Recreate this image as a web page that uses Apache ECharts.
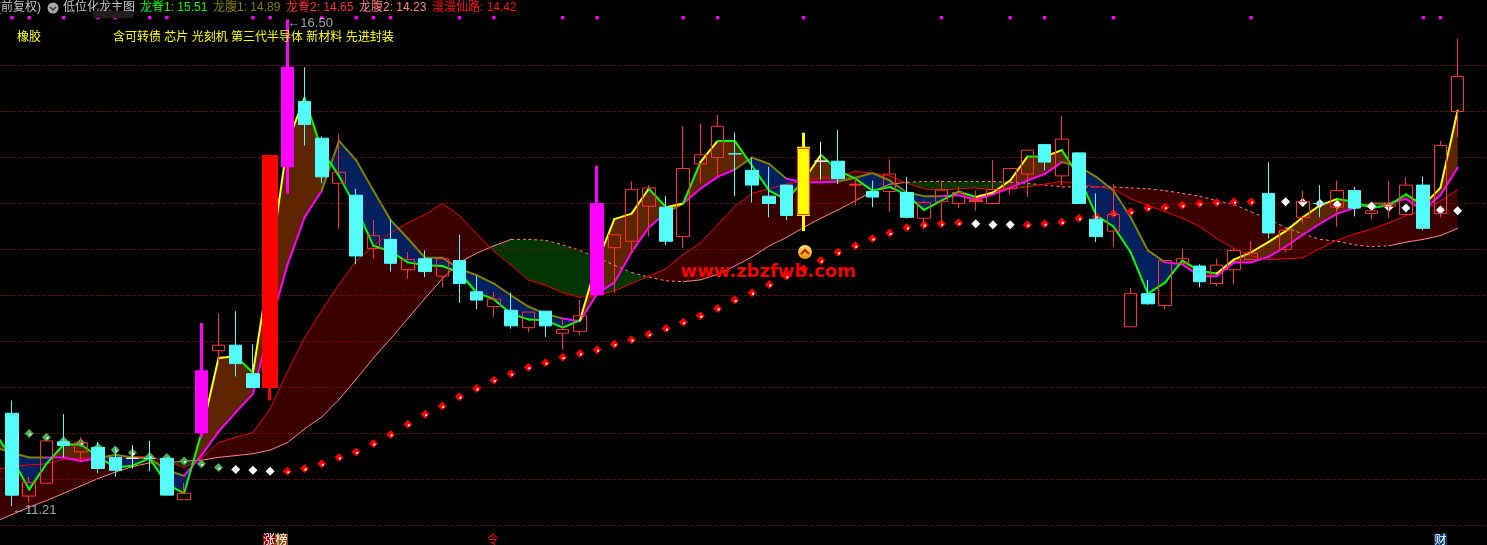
<!DOCTYPE html>
<html>
<head>
<meta charset="utf-8">
<style>html,body{margin:0;padding:0;background:#000;overflow:hidden}#c{width:1487px;height:545px}</style>
<script src="https://cdn.jsdelivr.net/npm/echarts@6/dist/echarts.min.js"></script>
</head>
<body>
<div id="c"></div>
<script>
// Candle kinds: c cyan down, r hollow red up, m magenta, R solid limit-up, y yellow, w white doji, f filled flat red
const candleKinds = "crrcrccwcc"+"rmrccRmccr"+"crcrcrccrc"+"rcrrmrrrcr"+"rrccccywcf"+"crcrrrfrrr"+"crccrrcrrc"+"rrrcrrcrcr"+"rrcrr";
const opens = [12.22,11.32,11.46,11.91,11.80,11.85,11.74,11.73,11.73,11.73,11.28,12.02,12.90,12.96,12.65,12.51,14.91,15.61,15.21,14.72,14.59,14.01,14.11,13.78,13.90,13.71,13.88,13.54,13.38,13.34,13.15,13.33,13.09,13.11,13.52,14.02,14.09,14.47,14.46,14.14,14.93,15.00,15.04,14.86,14.58,14.70,14.38,14.96,14.96,14.70,14.63,14.63,14.62,14.34,14.52,14.50,14.52,14.50,14.66,14.82,15.14,14.80,15.05,14.33,14.20,13.16,13.52,13.39,13.85,13.82,13.63,13.78,13.89,14.61,14.00,14.35,14.50,14.46,14.64,14.39,14.47,14.38,14.70,14.39,15.50];
const closes = [11.33,11.47,11.92,11.87,11.90,11.62,11.60,11.73,11.73,11.33,11.35,12.67,12.96,12.76,12.50,15.01,15.97,15.36,14.79,14.84,13.93,14.15,13.85,13.89,13.76,13.90,13.63,13.45,13.46,13.17,13.32,13.17,13.13,13.28,14.49,14.16,14.65,14.67,14.09,14.88,15.03,15.34,15.04,14.70,14.50,14.37,15.10,14.96,14.77,14.71,14.57,14.82,14.35,14.51,14.65,14.62,14.54,14.65,14.88,15.08,14.95,15.20,14.50,14.14,14.38,13.52,13.41,13.88,13.90,13.65,13.83,13.99,13.96,14.18,14.21,14.52,14.50,14.64,14.45,14.42,14.49,14.70,14.23,15.13,15.88];
const lows = [11.21,11.25,11.46,11.74,11.72,11.57,11.53,11.62,11.59,11.33,11.28,11.96,12.78,12.62,12.50,12.36,14.61,15.13,14.72,14.22,13.84,13.90,13.76,13.68,13.70,13.59,13.42,13.35,13.26,13.14,13.10,13.05,12.91,13.07,13.52,13.53,13.96,14.14,14.05,14.02,14.72,14.79,14.58,14.51,14.35,14.32,14.20,14.76,14.71,14.48,14.46,14.41,14.34,14.22,14.28,14.45,14.42,14.50,14.59,14.57,14.86,14.70,14.50,14.08,14.03,13.16,13.40,13.35,13.85,13.59,13.60,13.62,13.89,14.12,13.97,14.28,14.35,14.25,14.36,14.33,14.34,14.38,14.21,14.35,15.22];
const highs = [12.36,11.53,11.92,12.21,11.96,11.91,11.85,11.87,11.92,11.73,11.46,13.20,13.30,13.33,12.97,15.01,16.50,15.98,15.23,15.26,14.66,14.32,14.32,13.97,13.99,13.90,14.16,13.71,13.54,13.53,13.32,13.33,13.24,13.45,14.91,14.16,14.74,14.70,14.58,15.34,15.37,15.46,15.27,15.00,14.90,14.70,15.27,15.17,15.30,14.78,14.75,14.98,14.79,14.53,14.75,14.68,14.64,14.97,14.88,15.08,15.14,15.45,15.05,14.61,14.71,13.58,13.67,13.88,14.01,13.84,13.90,14.02,14.09,14.95,14.24,14.64,14.70,14.75,14.68,14.42,14.74,14.78,14.79,15.18,16.29];
// 龙脊1 / 龙腹1 / 龙脊2 / 龙腹2 — first value is the point just off the left edge, then one per candle
const ridge1 = [12.01,11.73,11.39,11.67,11.88,11.88,11.75,11.63,11.65,11.73,11.45,11.35,12.00,12.82,12.84,12.66,13.84,15.16,15.65,15.08,14.80,14.45,14.04,13.98,13.86,13.83,13.82,13.75,13.53,13.46,13.30,13.24,13.23,13.15,13.23,13.86,14.33,14.39,14.66,14.46,14.50,14.95,15.18,15.18,14.91,14.64,14.54,14.75,15.03,14.86,14.77,14.64,14.68,14.59,14.43,14.53,14.63,14.57,14.62,14.75,15.01,15.01,15.08,14.79,14.37,14.25,13.97,13.52,13.64,13.88,13.77,13.74,13.89,13.97,14.08,14.20,14.35,14.48,14.55,14.52,14.45,14.48,14.60,14.48,14.67,15.51];
const belly1 = [11.85,11.79,11.74,11.74,11.74,11.70,11.73,11.77,11.74,11.73,11.60,11.54,11.76,12.02,12.23,12.43,13.17,13.83,14.35,14.64,15.18,14.97,14.64,14.32,14.12,13.91,13.91,13.79,13.72,13.63,13.50,13.38,13.30,13.25,13.22,13.52,13.64,13.97,14.24,14.40,14.50,14.66,14.79,14.87,15.00,14.93,14.77,14.73,14.73,14.74,14.78,14.83,14.75,14.62,14.58,14.58,14.59,14.54,14.60,14.67,14.75,14.82,14.95,14.90,14.79,14.64,14.35,13.99,13.86,13.84,13.71,13.71,13.86,13.86,13.92,14.03,14.16,14.28,14.39,14.45,14.50,14.50,14.55,14.42,14.59,14.89];
const ridge2 = [11.61,11.64,11.66,11.67,11.72,11.73,11.74,11.74,11.75,11.75,11.70,11.63,11.73,11.90,11.96,12.01,12.27,12.67,13.04,13.34,13.62,13.88,14.04,14.18,14.29,14.38,14.50,14.37,14.17,13.98,13.83,13.67,13.61,13.53,13.48,13.50,13.55,13.63,13.71,13.79,13.95,14.07,14.27,14.47,14.61,14.66,14.71,14.75,14.78,14.79,14.85,14.83,14.80,14.72,14.66,14.64,14.66,14.67,14.65,14.66,14.68,14.71,14.74,14.71,14.68,14.66,14.55,14.48,14.41,14.34,14.25,14.12,14.01,13.93,13.89,13.90,13.91,14.01,14.10,14.17,14.22,14.29,14.37,14.42,14.53,14.65];
const belly2 = [11.04,11.12,11.20,11.27,11.35,11.43,11.51,11.58,11.64,11.68,11.68,11.70,11.71,11.74,11.76,11.78,11.82,11.90,12.05,12.18,12.37,12.59,12.82,13.03,13.25,13.47,13.68,13.86,13.96,14.04,14.11,14.11,14.10,14.05,13.99,13.91,13.83,13.75,13.70,13.66,13.65,13.67,13.73,13.82,13.92,14.04,14.13,14.24,14.34,14.43,14.53,14.63,14.71,14.73,14.74,14.74,14.74,14.74,14.74,14.73,14.72,14.70,14.68,14.68,14.68,14.68,14.67,14.66,14.64,14.61,14.58,14.53,14.49,14.41,14.33,14.24,14.17,14.11,14.09,14.05,14.03,14.04,14.08,14.11,14.15,14.23];
// 漫漫仙路 dots and their state: g green, w white, r red
const pathDots = [12.03,12.00,11.96,11.92,11.90,11.85,11.82,11.79,11.75,11.74,11.70,11.67,11.63,11.61,11.60,11.59,11.59,11.62,11.67,11.74,11.80,11.89,11.99,12.10,12.21,12.30,12.40,12.49,12.58,12.65,12.72,12.77,12.83,12.87,12.91,12.97,13.02,13.08,13.14,13.21,13.28,13.36,13.45,13.53,13.62,13.71,13.79,13.88,13.97,14.04,14.12,14.18,14.24,14.27,14.28,14.29,14.28,14.27,14.27,14.27,14.28,14.30,14.34,14.36,14.39,14.41,14.45,14.46,14.48,14.50,14.51,14.52,14.52,14.52,14.52,14.51,14.50,14.49,14.48,14.47,14.46,14.45,14.45,14.43,14.42];
const dotStates = "ggggggggggggg"+"www"+"r".repeat(40)+"www"+"r".repeat(14)+"w".repeat(12);
const signalCandles = [0,1,3,5,6,8,9,14,15,18,20,21,22,26,28,32,34,39,41,46,54,58,60,64,72,82,83];
const signalLevel = 16.52;
const gridLevels = [11,11.5,12,12.5,13,13.5,14,14.5,15,15.5,16];
const extremes = [[16,16.50,'←16.50'],[0,11.21,'←11.21']];
const headerLine = [
 ['(前复权)',-3,'#c4c4c4'],['低位化龙主图',63,'#c4c4c4'],['龙脊1: 15.51',140,'#00ff00'],['龙腹1: 14.89',213,'#808000'],
 ['龙脊2: 14.65',286,'#ff3030'],['龙腹2: 14.23',359,'#ff8080'],['漫漫仙路: 14.42',432,'#ff1010']];
const conceptLine = [['橡胶',17],['含可转债 芯片 光刻机 第三代半导体 新材料 先进封装',113]];

const SLOTS = 86, STEP = 17.21;
const categories = Array.from({length:SLOTS},(_,i)=>String(i));
const font = '"Liberation Sans","Noto Sans CJK SC",sans-serif';
const yBottom = 11-(545-525.5)/92, yTop = 11+525.5/92;

function candleStyle(k){
  const s = {
    c:{f:'#54fcfc',b:'#54fcfc'}, r:{f:'transparent',b:'#ff3232'}, m:{f:'#ff00ff',b:'#ff00ff',w:3},
    R:{f:'#ff0000',b:'#ff0000',w:3}, y:{f:'#ffff00',b:'#ffff00',w:3}, w:{f:'#ffffff',b:'#ffffff'}, f:{f:'#ff3232',b:'#ff3232'}
  }[k];
  return {color:s.f,color0:s.f,borderColor:s.b,borderColor0:s.b,borderColorDoji:s.b,borderWidth:s.w||1,opacity:1};
}
function candleData(test,map){
  return opens.map((o,i)=>{
    const k=candleKinds[i];
    if(!test(k)) return ['-','-','-','-'];
    return map?map(i,k):{value:[o,closes[i],lows[i],highs[i]],itemStyle:candleStyle(k)};
  });
}
// k = array position (0 is the off-edge point, k-1 is the candle slot)
function placer(api){
  const origin=api.coord([0,yBottom])[0], step=api.size([1,0])[0];
  return (k,v)=>[origin+(k-1)*step, api.coord([0,v])[1]];
}
function ribbon(P,Q,above,below,z){
  return {type:'custom',coordinateSystem:'cartesian2d',z,silent:true,clip:false,data:[[0,yBottom]],
    encode:{x:0,y:1},
    renderItem(params,api){
      const pt=placer(api), children=[];
      let up=[pt(0,P[0])], lo=[pt(0,Q[0])], sign=P[0]>=Q[0];
      const flush=(c)=>children.push({type:'polygon',shape:{points:up.concat(lo.slice().reverse())},style:{fill:c}});
      for(let j=1;j<P.length;j++){
        const d1=P[j-1]-Q[j-1], d2=P[j]-Q[j];
        if(d1*d2<0){
          const t=d1/(d1-d2), m=pt(j-1+t,P[j-1]+(P[j]-P[j-1])*t);
          up.push(m); flush(sign?above:below);
          up=[m]; lo=[m]; sign=d2>0;
        }
        up.push(pt(j,P[j])); lo.push(pt(j,Q[j]));
      }
      flush(sign?above:below);
      return {type:'group',children};
    }};
}
function segLine(V,styleOf,width,z){
  return {type:'custom',coordinateSystem:'cartesian2d',z,silent:true,clip:false,data:[[0,yBottom]],
    encode:{x:0,y:1},
    renderItem(params,api){
      const pt=placer(api), children=[];
      for(let i=0;i<V.length-1;i++){
        const s=styleOf(i), a=pt(i,V[i]), b=pt(i+1,V[i+1]);
        children.push({type:'line',shape:{x1:a[0],y1:a[1],x2:b[0],y2:b[1]},
          style:{stroke:s.c,lineWidth:width,lineCap:s.dash?'butt':'round',lineDash:s.dash||null,fill:null}});
      }
      return {type:'group',children};
    }};
}
const ridge1Style=i=>({c:(ridge1[i+1]>ridge1[i]&&ridge1[i]>belly1[i])?'#ffff00':'#00ff00'});
const belly1Style=i=>({c:ridge1[i+1]>belly1[i+1]?'#ff00ff':'#808000'});
const ridge2Style=()=>({c:'#ee0000'});
const belly2Style=i=>({c:'#ff8080',dash:belly2[i+1]>belly2[i]+0.01?null:[3,3]});

const dotColor={g:'#4caf50',w:'#ffffff',r:'#f80000'};
const dotData=pathDots.map((v,i)=>({value:[i,v],itemStyle:{color:dotColor[dotStates[i]],opacity:1}}));
const speckData=pathDots.map((v,i)=>dotStates[i]==='w'?null:[i,v]).filter(Boolean);

const gfx=[];
headerLine.forEach(([t,x,c])=>gfx.push({type:'text',z:20,style:{text:t,x,y:8,fill:c,font:'12px '+font,verticalAlign:'middle'}}));
conceptLine.forEach(([t,x])=>gfx.push({type:'text',z:20,style:{text:t,x,y:38,fill:'#ffff00',font:'12px '+font,verticalAlign:'middle'}}));
gfx.push({type:'circle',z:20,shape:{cx:53,cy:8,r:5.5},style:{fill:'#a8a8a8'}});
gfx.push({type:'polyline',z:21,shape:{points:[[50,7],[53,10],[56,7]]},style:{stroke:'#303030',lineWidth:1.4,fill:null}});
gfx.push({type:'rect',z:22,shape:{x:93,y:11,width:40,height:7},style:{fill:'#231f1f'}});
// watermark + logo
gfx.push({type:'text',z:30,style:{text:'www.zbzfwb.com',x:768.5,y:272,fill:'#ff0000',font:'bold 18px "DejaVu Sans",sans-serif',align:'center',verticalAlign:'middle'}});
gfx.push({type:'circle',z:30,shape:{cx:805,cy:252,r:7},style:{fill:{type:'linear',x:0,y:0,x2:0,y2:1,colorStops:[{offset:0,color:'#ffe070'},{offset:1,color:'#f09000'}]}}});
gfx.push({type:'polyline',z:31,shape:{points:[[801,254],[805,250],[809,254]]},style:{stroke:'#c81800',lineWidth:2,fill:null}});
// bottom markers
const tag=(x,w,bg,t,c)=>{
  if(bg)gfx.push({type:'rect',z:20,shape:{x,y:534,width:w,height:11},style:{fill:bg}});
  gfx.push({type:'text',z:21,style:{text:t,x:x+w/2,y:539.5,fill:c,font:'12px "Noto Sans CJK SC"',align:'center',verticalAlign:'middle'}});
};
tag(263,12,'#800000','涨','#ffffff');
tag(275,13,'#8b4a10','榜','#ffffff');
tag(487,12,null,'令','#ff1010');
tag(1434,13,'#0a3a70','财','#ffffff');

const chart=echarts.init(document.getElementById('c'),null,{renderer:'canvas',width:1487,height:545});
chart.setOption({
  animation:false,
  backgroundColor:'#000',
  tooltip:{show:false},
  grid:[
    {left:12-STEP/2,top:0,width:STEP*SLOTS,height:545,containLabel:false},
    {left:0,top:0,width:1487,height:545,containLabel:false}
  ],
  xAxis:[
    {type:'category',data:categories,boundaryGap:true,show:false,gridIndex:0},
    {type:'value',min:0,max:1,show:false,gridIndex:1,splitLine:{show:false}}
  ],
  yAxis:[
    {type:'value',min:yBottom,max:yTop,show:false,gridIndex:0,splitLine:{show:false}},
    {type:'value',min:yBottom,max:yTop,show:false,gridIndex:1,splitLine:{show:false}}
  ],
  graphic:gfx,
  series:[
    {type:'line',z:0,silent:true,data:[],symbol:'none',xAxisIndex:1,yAxisIndex:1,
      markLine:{silent:true,symbol:'none',label:{show:false},animation:false,
        lineStyle:{type:[1,2],color:'#a00808',width:1},
        data:gridLevels.map(v=>({yAxis:v}))}},
    ribbon(ridge2,belly2,'#3a0000','#033503',1),
    ribbon(ridge1,belly1,'#5e2600','#002060',2),
    segLine(belly2,belly2Style,1,3),
    segLine(ridge2,ridge2Style,1,3),
    segLine(belly1,belly1Style,2,4),
    segLine(ridge1,ridge1Style,2,5),
    {type:'scatter',z:6,silent:true,symbol:'diamond',symbolSize:9,data:dotData},
    {type:'scatter',z:6,silent:true,symbol:'rect',symbolSize:2,symbolOffset:[1,1],itemStyle:{color:'#ffffff',opacity:1},data:speckData},
    {type:'scatter',z:6,silent:true,symbol:'rect',symbolSize:3.4,itemStyle:{color:'#ff00ff',opacity:1},
      data:signalCandles.map(i=>[i,signalLevel])},
    {type:'candlestick',z:7,silent:true,barWidth:13,data:candleData(k=>'crwf'.includes(k))},
    {type:'candlestick',z:7,silent:true,barWidth:11,data:candleData(k=>k==='m'||k==='y')},
    {type:'candlestick',z:7,silent:true,barWidth:13,data:candleData(k=>k==='R')},
    {type:'candlestick',z:8,silent:true,barWidth:13,
      data:candleData(k=>k==='y',i=>({value:[opens[i],closes[i],opens[i],closes[i]],
        itemStyle:{color:'transparent',color0:'transparent',borderColor:'#ff3232',borderColor0:'#ff3232',borderWidth:1}}))},
    {type:'scatter',z:9,silent:true,symbolSize:0,
      label:{show:true,position:'right',distance:0,offset:[0,4],color:'#c8c8c8',fontSize:13,fontFamily:font,
        formatter:p=>p.data[2]},
      data:extremes.map(([i,v,t])=>[i,v,t])}
  ]
});
</script>
</body>
</html>
